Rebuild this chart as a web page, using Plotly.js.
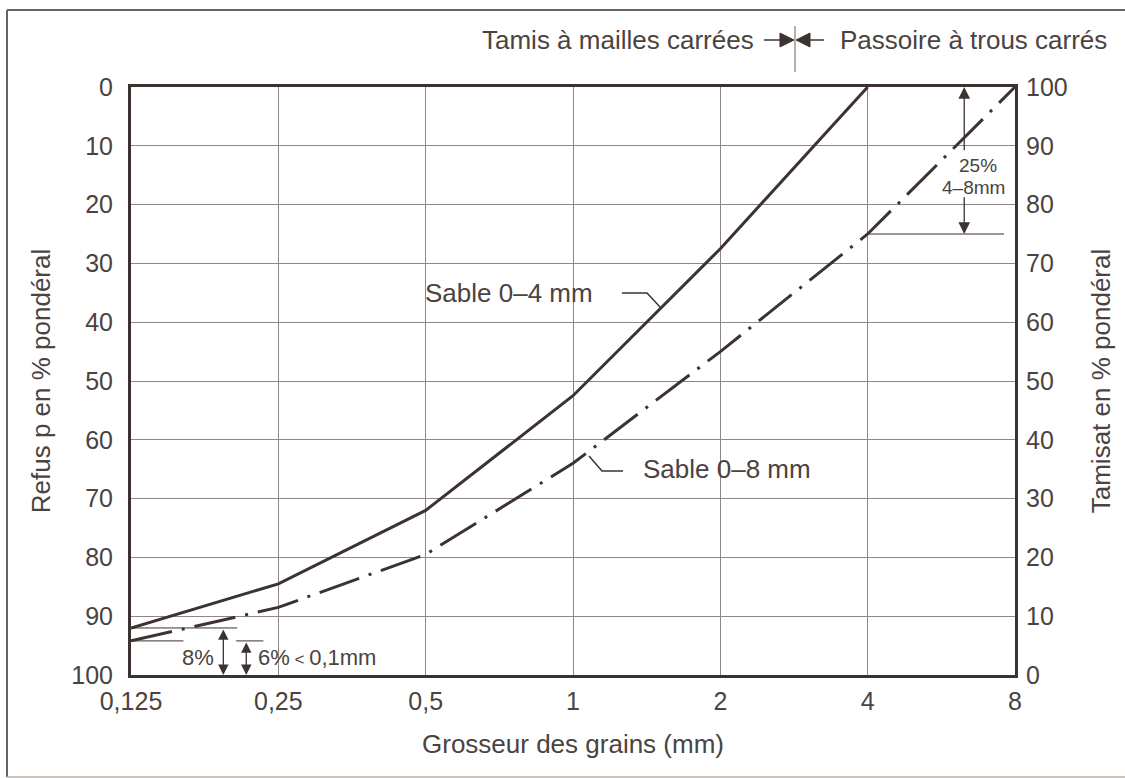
<!DOCTYPE html>
<html>
<head>
<meta charset="utf-8">
<script src="https://cdn.plot.ly/plotly-3.0.1.min.js"></script>
<style>
html,body{margin:0;padding:0;background:#fff;}
#chart{width:1125px;height:778px;}
</style>
</head>
<body>
<div id="chart"></div>
<script>
// ---- data ----
var grainSizes = [0.125, 0.25, 0.5, 1, 2, 4, 8];
var tickLabels = ['0,125', '0,25', '0,5', '1', '2', '4', '8'];
var sizes04 = [0.125, 0.25, 0.5, 1, 2, 4];
var refus04 = [92, 84.5, 72, 52.5, 27.5, 0];
var sizes08 = [0.125, 0.25, 0.5, 1, 2, 4, 8];
var refus08 = [94.2, 88.5, 79.5, 64, 45, 25, 0];
var leftTicks = [0, 10, 20, 30, 40, 50, 60, 70, 80, 90, 100];
var rightTicks = [0, 10, 20, 30, 40, 50, 60, 70, 80, 90, 100];

// ---- layout helpers (pixel -> paper) ----
var L = 131, R = 1015, T = 87, B = 675;
function px(x){ return (x - L) / (R - L); }
function py(y){ return (B - y) / (B - T); }
function lx(v){ return Math.log10(v); }

var ink = '#3c3330';
var txt = '#4a4341';
var grid = '#8d8684';
var fontFam = '"Liberation Sans", Arial, sans-serif';
var fs = 26;
var tfs = 25;

var traces = [
  {x: sizes04, y: refus04, type: 'scatter', mode: 'lines', name: 'Sable 0–4 mm',
   line: {color: ink, width: 3}, xaxis: 'x', yaxis: 'y', hoverinfo: 'x+y'},
  {x: sizes08, y: refus08, type: 'scatter', mode: 'lines', name: 'Sable 0–8 mm',
   line: {color: ink, width: 3, dash: '42px,10px,3px,10px'}, xaxis: 'x', yaxis: 'y', hoverinfo: 'x+y'},
  // invisible trace to activate right axis
  {x: [grainSizes[0]], y: [rightTicks[0]], type: 'scatter', mode: 'markers', marker: {opacity: 0},
   xaxis: 'x', yaxis: 'y2', showlegend: false, hoverinfo: 'skip'}
];

var frameCol = '#6a6361';
var shapes = [
  // outer frame (top, left, bottom)
  {type: 'line', xref: 'paper', yref: 'paper', x0: px(7), x1: px(1125), y0: py(10), y1: py(10),
   line: {color: frameCol, width: 2}, layer: 'below'},
  {type: 'line', xref: 'paper', yref: 'paper', x0: px(7), x1: px(7), y0: py(10), y1: py(777),
   line: {color: frameCol, width: 2}, layer: 'below'},
  {type: 'line', xref: 'paper', yref: 'paper', x0: px(7), x1: px(1125), y0: py(777), y1: py(777),
   line: {color: '#b5b0ae', width: 1.5}, layer: 'below'},
  // top separator marker
  {type: 'line', xref: 'paper', yref: 'paper', x0: px(795), x1: px(795), y0: py(26), y1: py(72),
   line: {color: '#6a6361', width: 1}},
  {type: 'line', xref: 'paper', yref: 'paper', x0: px(764), x1: px(785), y0: py(40), y1: py(40),
   line: {color: ink, width: 1.5}},
  {type: 'path', xref: 'paper', yref: 'paper',
   path: 'M' + px(780) + ',' + py(33) + ' L' + px(794) + ',' + py(40) + ' L' + px(780) + ',' + py(47) + ' Z',
   fillcolor: ink, line: {color: ink, width: 1}},
  {type: 'line', xref: 'paper', yref: 'paper', x0: px(805), x1: px(824), y0: py(40), y1: py(40),
   line: {color: ink, width: 1.5}},
  {type: 'path', xref: 'paper', yref: 'paper',
   path: 'M' + px(810) + ',' + py(33) + ' L' + px(796) + ',' + py(40) + ' L' + px(810) + ',' + py(47) + ' Z',
   fillcolor: ink, line: {color: ink, width: 1}},
  // leader lines
  {type: 'path', xref: 'paper', yref: 'paper',
   path: 'M' + px(622) + ',' + py(293) + ' L' + px(647) + ',' + py(293) + ' L' + px(660) + ',' + py(307),
   line: {color: ink, width: 1.5}},
  {type: 'path', xref: 'paper', yref: 'paper',
   path: 'M' + px(623) + ',' + py(471) + ' L' + px(602) + ',' + py(471) + ' L' + px(589) + ',' + py(456),
   line: {color: ink, width: 1.5}},
  // reference line for 25% (4-8 mm)
  {type: 'line', xref: 'x', yref: 'y', x0: 4, x1: 7.6, y0: 25, y1: 25,
   line: {color: ink, width: 1}},
  // reference lines bottom left
  {type: 'line', xref: 'x', yref: 'y', x0: 0.125, x1: 0.206, y0: 92, y1: 92,
   line: {color: ink, width: 1}},
  {type: 'line', xref: 'x', yref: 'y', x0: 0.125, x1: 0.16, y0: 94.2, y1: 94.2,
   line: {color: ink, width: 1}},
  {type: 'line', xref: 'x', yref: 'y', x0: 0.205, x1: 0.233, y0: 94.2, y1: 94.2,
   line: {color: ink, width: 1}}
];

function dblArrow(xv, y0, y1){
  return {xref: 'x', yref: 'y', axref: 'x', ayref: 'y', x: lx(xv), y: y1, ax: lx(xv), ay: y0,
          text: '', showarrow: true, arrowhead: 2, arrowside: 'end+start', arrowsize: 1.6,
          arrowwidth: 1.3, arrowcolor: ink, standoff: 0, startstandoff: 0};
}
function oneArrow(xv, yFrom, yTo){
  return {xref: 'x', yref: 'y', axref: 'x', ayref: 'y', x: lx(xv), y: yTo, ax: lx(xv), ay: yFrom,
          text: '', showarrow: true, arrowhead: 2, arrowsize: 1.8,
          arrowwidth: 1.3, arrowcolor: ink, standoff: 0};
}

var annotations = [
  {xref: 'paper', yref: 'paper', x: px(756), y: py(40), xanchor: 'right', yanchor: 'middle',
   text: 'Tamis à mailles carrées', showarrow: false, font: {family: fontFam, size: fs, color: txt}},
  {xref: 'paper', yref: 'paper', x: px(838), y: py(40), xanchor: 'left', yanchor: 'middle',
   text: 'Passoire à trous carrés', showarrow: false, font: {family: fontFam, size: fs, color: txt}},
  {xref: 'paper', yref: 'paper', x: px(423), y: py(293), xanchor: 'left', yanchor: 'middle',
   text: 'Sable 0–4 mm', showarrow: false, font: {family: fontFam, size: fs, color: txt}},
  {xref: 'paper', yref: 'paper', x: px(641), y: py(469), xanchor: 'left', yanchor: 'middle',
   text: 'Sable 0–8 mm', showarrow: false, font: {family: fontFam, size: fs, color: txt}},
  oneArrow(6.3, 11, 0),
  oneArrow(6.3, 18.5, 25),
  {xref: 'paper', yref: 'paper', x: px(978), y: py(165), xanchor: 'center', yanchor: 'middle',
   text: '25%', showarrow: false, font: {family: fontFam, size: 19, color: txt}},
  {xref: 'paper', yref: 'paper', x: px(973), y: py(187), xanchor: 'center', yanchor: 'middle',
   text: '4–8mm', showarrow: false, font: {family: fontFam, size: 19, color: txt}},
  dblArrow(0.193, 92, 100),
  dblArrow(0.215, 94.2, 100),
  {xref: 'paper', yref: 'paper', x: px(216), y: py(657), xanchor: 'right', yanchor: 'middle',
   text: '8%', showarrow: false, font: {family: fontFam, size: 22, color: txt}},
  {xref: 'paper', yref: 'paper', x: px(256), y: py(657), xanchor: 'left', yanchor: 'middle',
   text: '6%<span style="font-size:17px"> < </span>0,1mm', showarrow: false, font: {family: fontFam, size: 22, color: txt}}
];

var layout = {
  width: 1125, height: 778,
  margin: {l: L, r: 1125 - R, t: T, b: 778 - B, pad: 0},
  paper_bgcolor: '#ffffff', plot_bgcolor: '#ffffff',
  showlegend: false,
  font: {family: fontFam, color: txt, size: fs},
  xaxis: {
    type: 'log', range: [lx(grainSizes[0]), lx(grainSizes[grainSizes.length - 1])],
    tickmode: 'array', tickvals: grainSizes, ticktext: tickLabels,
    showgrid: true, gridcolor: grid, gridwidth: 1,
    showline: true, linecolor: ink, linewidth: 3, mirror: true,
    ticks: '', ticklabelstandoff: 2,
    tickfont: {family: fontFam, size: tfs, color: txt},
    title: {text: 'Grosseur des grains (mm)', font: {family: fontFam, size: fs, color: txt}, standoff: 21},
    zeroline: false, automargin: false
  },
  yaxis: {
    range: [100, 0], tickmode: 'array', tickvals: leftTicks,
    showgrid: true, gridcolor: grid, gridwidth: 1,
    showline: true, linecolor: ink, linewidth: 3, mirror: true,
    ticks: '', ticklabelstandoff: 10,
    tickfont: {family: fontFam, size: tfs, color: txt},
    title: {text: 'Refus p en % pondéral', font: {family: fontFam, size: fs, color: txt}, standoff: 14},
    zeroline: false, automargin: false
  },
  yaxis2: {
    overlaying: 'y', side: 'right', range: [0, 100], tickmode: 'array', tickvals: rightTicks,
    showgrid: false, showline: false, ticks: '', ticklabelstandoff: 10,
    tickfont: {family: fontFam, size: tfs, color: txt},
    title: {text: 'Tamisat en % pondéral', font: {family: fontFam, size: fs, color: txt}, standoff: 25},
    zeroline: false, automargin: false
  },
  shapes: shapes,
  annotations: annotations
};

Plotly.newPlot('chart', traces, layout, {displayModeBar: false, staticPlot: true});
</script>
</body>
</html>
